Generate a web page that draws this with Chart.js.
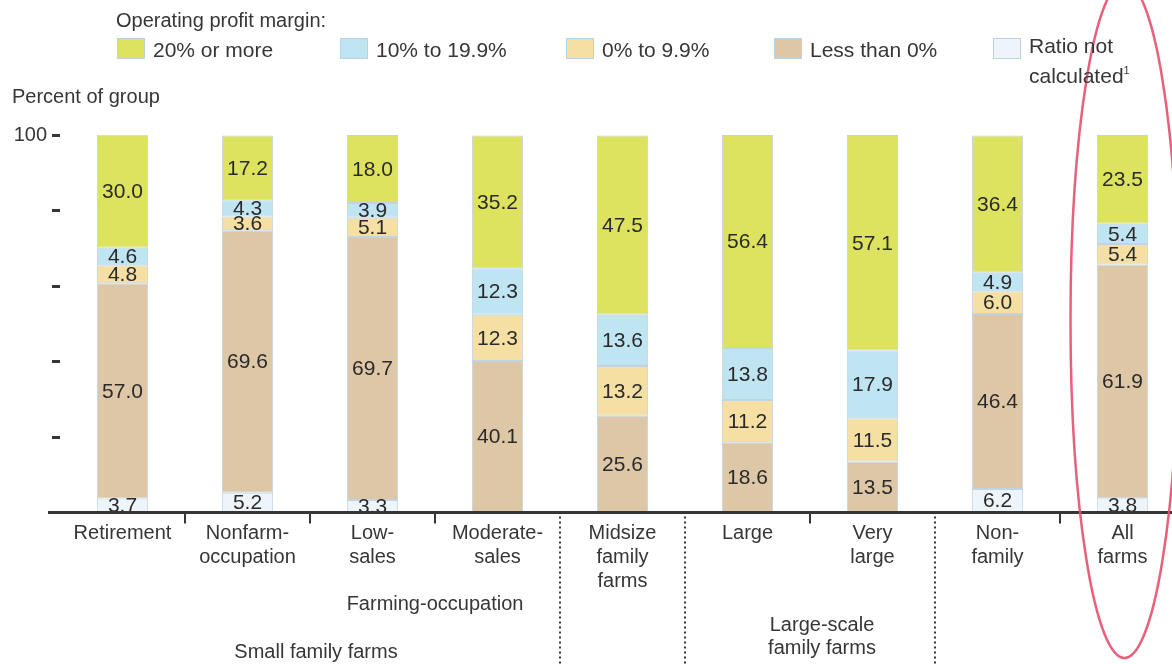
<!DOCTYPE html>
<html>
<head>
<meta charset="utf-8">
<script src="https://cdn.jsdelivr.net/npm/chart.js@4.4.1/dist/chart.umd.min.js"></script>
<style>
  body { margin: 0; background: #fff; }
  #wrap { position: relative; width: 1172px; height: 664px; overflow: hidden; font-family: "Liberation Sans", Arial, sans-serif; color: #363636; }
  #chart { position: absolute; left: 0; top: 0; }
  .txt { position: absolute; white-space: nowrap; }
  .box { position: absolute; width: 28px; height: 21px; border: 1px solid #b9d3e0; box-sizing: border-box; }
</style>
</head>
<body>
<div id="wrap">
  <canvas id="chart" width="1200" height="664"></canvas>
  <div class="txt" style="left:116px; top:8px; font-size:20px; line-height:24px;">Operating profit margin:</div>
  <div class="txt" style="left:12px; top:84px; font-size:20px; line-height:24px;">Percent of group</div>
  <div id="legend"></div>
</div>
<script>
// categories (x axis), multi-line
const categories = [
  ["Retirement"], ["Nonfarm-", "occupation"], ["Low-", "sales"], ["Moderate-", "sales"],
  ["Midsize", "family", "farms"], ["Large"], ["Very", "large"], ["Non-", "family"], ["All", "farms"]
];

// series, bottom of stack first
const notCalculated = [3.7, 5.2, 3.3, 0, 0, 0, 0, 6.2, 3.8];
const lessThan0     = [57.0, 69.6, 69.7, 40.1, 25.6, 18.6, 13.5, 46.4, 61.9];
const pct0to9       = [4.8, 3.6, 5.1, 12.3, 13.2, 11.2, 11.5, 6.0, 5.4];
const pct10to19     = [4.6, 4.3, 3.9, 12.3, 13.6, 13.8, 17.9, 4.9, 5.4];
const pct20plus     = [30.0, 17.2, 18.0, 35.2, 47.5, 56.4, 57.1, 36.4, 23.5];

const yTicks = [0, 20, 40, 60, 80, 100];

const seriesNames = ["Ratio not calculated", "Less than 0%", "0% to 9.9%", "10% to 19.9%", "20% or more"];
const seriesColors = ["#eef5fa", "#ddc7a6", "#f5dfa2", "#bfe4f2", "#dee35f"];

// legend (top, in reverse order), x positions of the boxes
const legendX = [117, 340, 566, 774, 993];
const legendEl = document.getElementById("legend");
[4, 3, 2, 1, 0].forEach((s, i) => {
  const x = legendX[i];
  let label = seriesNames[s];
  if (s === 0) label = "Ratio not<br>calculated<sup style='font-size:11px;vertical-align:9px'>1</sup>";
  legendEl.innerHTML += `<div class="box" style="left:${x}px; top:38px; background:${seriesColors[s]}"></div>` +
    `<div class="txt" style="left:${x + 36}px; top:${s === 0 ? 33 : 37}px; font-size:21px; line-height:25px;">${label}</div>`;
});

const FONT = '"Liberation Sans", Arial, sans-serif';

const decor = {
  id: "decor",
  afterDatasetsDraw(chart) {
    const ctx = chart.ctx;
    const xs = chart.scales.x, ys = chart.scales.y;
    const y0 = ys.getPixelForValue(0);
    const step = xs.getPixelForValue(1) - xs.getPixelForValue(0);
    ctx.save();

    // value labels in the middle of each segment
    ctx.fillStyle = "#2a2a2a";
    ctx.font = "21px " + FONT;
    ctx.textAlign = "center";
    ctx.textBaseline = "middle";
    chart.data.datasets.forEach((ds, di) => {
      chart.getDatasetMeta(di).data.forEach((bar, i) => {
        const v = ds.data[i];
        if (!v) return;
        ctx.fillText(v.toFixed(1), bar.x, (bar.y + bar.base) / 2 + 1);
      });
    });

    // axis line
    ctx.strokeStyle = "#363636";
    ctx.lineWidth = 3;
    ctx.beginPath();
    ctx.moveTo(48, y0);
    ctx.lineTo(1200, y0);
    ctx.stroke();

    // small ticks between some categories
    ctx.lineWidth = 2;
    [1, 2, 3, 6, 8].forEach((b) => {
      const x = xs.getPixelForValue(b) - step / 2;
      ctx.beginPath();
      ctx.moveTo(x, y0);
      ctx.lineTo(x, y0 + 11);
      ctx.stroke();
    });

    // dotted group separators
    ctx.setLineDash([2, 3]);
    [4, 5, 7].forEach((b) => {
      const x = xs.getPixelForValue(b) - step / 2;
      ctx.beginPath();
      ctx.moveTo(x, y0 + 4);
      ctx.lineTo(x, 664);
      ctx.stroke();
    });
    ctx.setLineDash([]);

    // group labels
    ctx.fillStyle = "#363636";
    ctx.font = "20px " + FONT;
    ctx.fillText("Farming-occupation", xs.getPixelForValue(2.5), 604);
    ctx.fillText("Small family farms", xs.getPixelForValue(1.5) + 6, 652);
    ctx.fillText("Large-scale", xs.getPixelForValue(5.5) + 12, 625);
    ctx.fillText("family farms", xs.getPixelForValue(5.5) + 12, 648);

    // red hand-drawn ellipse round "All farms"
    ctx.strokeStyle = "rgba(228,80,110,0.9)";
    ctx.lineWidth = 2.5;
    ctx.beginPath();
    ctx.ellipse(xs.getPixelForValue(8) + 2, 320, 54, 338, 0, 0, Math.PI * 2);
    ctx.stroke();
    ctx.restore();
  }
};

new Chart(document.getElementById("chart"), {
  type: "bar",
  data: {
    labels: categories,
    datasets: [notCalculated, lessThan0, pct0to9, pct10to19, pct20plus].map((d, i) => ({
      label: seriesNames[i],
      data: d,
      backgroundColor: seriesColors[i],
      borderColor: "rgba(165,195,212,0.7)",
      borderWidth: (c) => (c.raw ? 1 : 0),
      borderSkipped: false,
      barPercentage: 0.41,
      categoryPercentage: 1
    }))
  },
  options: {
    responsive: false,
    animation: false,
    layout: { padding: { top: 135, right: 15, left: 0, bottom: 0 } },
    plugins: { legend: { display: false }, tooltip: { enabled: false } },
    scales: {
      x: {
        stacked: true,
        grid: { display: false, drawTicks: false },
        border: { display: false },
        ticks: { color: "#363636", font: { size: 20, family: FONT, lineHeight: 1.2 }, padding: 9, maxRotation: 0, autoSkip: false },
        afterFit: (s) => { s.height = 151.5; }
      },
      y: {
        stacked: true,
        min: 0,
        max: 100,
        afterBuildTicks: (s) => { s.ticks = yTicks.map((v) => ({ value: v })); },
        grid: {
          display: true,
          drawOnChartArea: false,
          drawTicks: true,
          tickLength: 8,
          tickWidth: 3,
          tickColor: (c) => (c.tick && c.tick.value === 0 ? "rgba(0,0,0,0)" : "#363636")
        },
        border: { display: false },
        ticks: {
          color: "#363636",
          padding: 5,
          font: { size: 20, family: FONT },
          callback: (v) => (v === 100 ? "100" : "")
        },
        afterFit: (s) => { s.width = 60; }
      }
    }
  },
  plugins: [decor]
});
</script>
</body>
</html>
